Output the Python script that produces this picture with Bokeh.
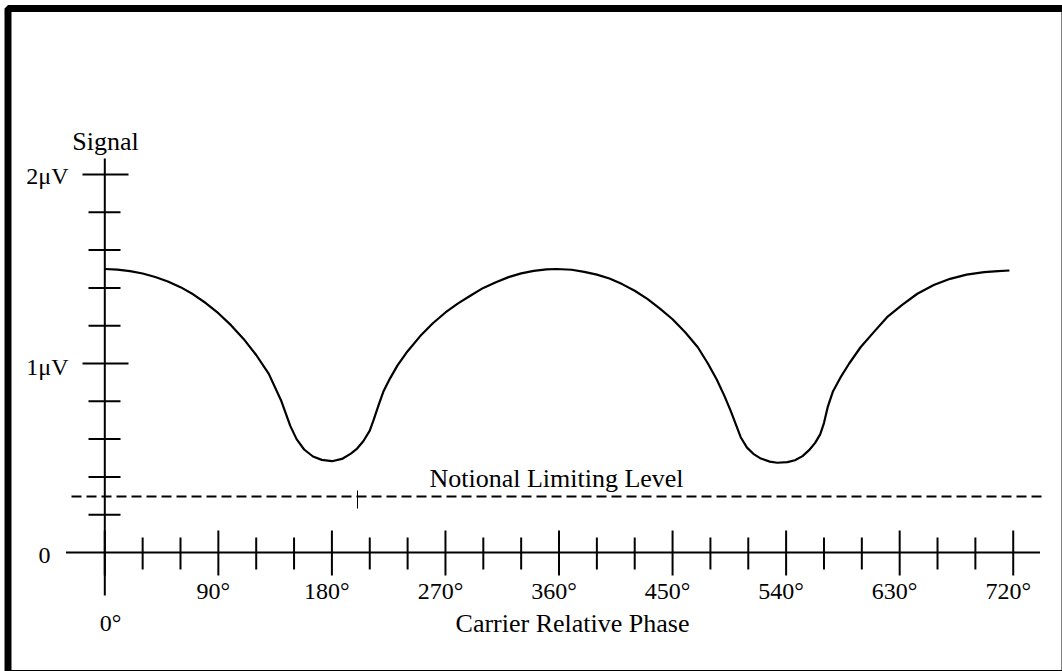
from bokeh.plotting import figure
from bokeh.models import Range1d
from bokeh.core.properties import value
from bokeh.embed import file_html
from bokeh.resources import INLINE
import math

# ---- data ----
phase_deg = [0, 10, 20, 30, 40, 50, 60, 70, 80, 90, 100, 110, 120, 130, 140, 147, 152, 158,
             165, 172, 180, 188, 195, 200, 205, 210, 213, 217, 221, 226, 232, 240, 250, 260,
             270, 280, 290, 300, 310, 320, 330, 340, 350, 358, 370, 380, 390, 400, 410, 420,
             430, 440, 450, 460, 470, 478, 485, 491, 496, 500, 504, 509, 514, 520, 527, 533,
             541, 547, 553, 558, 563, 567, 570, 573, 577, 583, 590, 599, 610, 620, 632, 644,
             657, 670, 683, 697, 708, 717]
signal_uv = [1.500, 1.497, 1.489, 1.476, 1.458, 1.434, 1.404, 1.366, 1.320, 1.266, 1.203,
             1.130, 1.045, 0.945, 0.800, 0.670, 0.600, 0.545, 0.508, 0.490, 0.483, 0.495,
             0.523, 0.550, 0.590, 0.645, 0.700, 0.780, 0.855, 0.920, 0.990, 1.065, 1.145,
             1.213, 1.270, 1.318, 1.360, 1.400, 1.430, 1.457, 1.477, 1.490, 1.498, 1.500,
             1.496, 1.485, 1.470, 1.450, 1.420, 1.385, 1.342, 1.290, 1.234, 1.165, 1.086,
             1.000, 0.915, 0.830, 0.751, 0.680, 0.610, 0.555, 0.522, 0.497, 0.481, 0.475,
             0.478, 0.488, 0.510, 0.540, 0.580, 0.625, 0.685, 0.770, 0.850, 0.925, 1.000,
             1.086, 1.170, 1.245, 1.310, 1.369, 1.415, 1.448, 1.470, 1.483, 1.489, 1.492]
limit_level = 0.296

x_major = [0, 90, 180, 270, 360, 450, 540, 630, 720]
x_minor = [30, 60, 120, 150, 210, 240, 300, 330, 390, 420, 480, 510, 570, 600, 660, 690]
x_labels = ["90°", "180°", "270°", "360°", "450°", "540°", "630°", "720°"]
x_label_pos = [90, 180, 270, 360, 450, 540, 630, 720]
y_major = [1, 2]
y_minor = [0.2, 0.4, 0.6, 0.8, 1.2, 1.4, 1.6, 1.8]
y_labels = ["2μV", "1μV"]
y_label_pos = [2, 1]

# ---- pixel <-> data mapping of the canvas ----
W, H = 1062, 671
X0PX, PX_PER_DEG = 104.3, 1.2617
Y0PX, PX_PER_UV = 552.0, 189.0

def dx(px):
    return (px - X0PX) / PX_PER_DEG

def dy(py):
    return (Y0PX - py) / PX_PER_UV

p = figure(width=W, height=H, output_backend="svg", toolbar_location=None,
           x_axis_type=None, y_axis_type=None, min_border=0,
           x_range=Range1d(dx(0), dx(W)), y_range=Range1d(dy(H), dy(0)))
p.outline_line_color = None
p.xgrid.visible = False
p.ygrid.visible = False
p.background_fill_color = "white"
p.border_fill_color = "white"

FONT = value("Liberation Serif")

# frame border
p.quad(left=[dx(7.5)], right=[dx(1064.5)], top=[dy(8)], bottom=[dy(673)],
       fill_color=None, line_color="black", line_width=7)

# axis lines
p.line([0, 0], [dy(595), dy(158)], line_color="black", line_width=2)
p.line([dx(65.5), dx(1039.5)], [0, 0], line_color="black", line_width=2)

# y ticks
p.scatter([dx(105)] * len(y_major), y_major, marker="dash", size=46,
          line_color="black", line_width=2)
p.scatter([dx(104)] * len(y_minor), y_minor, marker="dash", size=32,
          line_color="black", line_width=2)

# x ticks
p.scatter(x_major, [dy(552.5)] * len(x_major), marker="dash", size=45, angle=math.pi / 2,
          line_color="black", line_width=2)
p.scatter(x_minor, [dy(553)] * len(x_minor), marker="dash", size=32, angle=math.pi / 2,
          line_color="black", line_width=2)

# limiting level
p.line([dx(71), dx(1045)], [limit_level, limit_level], line_color="black",
       line_width=2, line_dash="10 5")
p.scatter([dx(357)], [dy(499)], marker="dash", size=18, angle=math.pi / 2,
          line_color="black", line_width=1)

# signal curve
p.line(phase_deg, signal_uv, line_color="black", line_width=2.2, line_join="round")

# labels
p.text(x=[lx + dx(X0PX - 5) for lx in x_label_pos], y=[dy(590)] * len(x_label_pos),
       text=x_labels, text_font=FONT, text_font_size="24px",
       text_align="center", text_baseline="middle", text_color="black")
p.text(x=[dx(68)] * 2, y=[dy(175), dy(366)], text=y_labels, text_font=FONT,
       text_font_size="24px", text_align="right", text_baseline="middle",
       text_color="black")
p.text(x=[dx(44)], y=[dy(555)], text=["0"], text_font=FONT, text_font_size="24px",
       text_align="center", text_baseline="middle", text_color="black")
p.text(x=[dx(110)], y=[dy(622)], text=["0°"], text_font=FONT, text_font_size="24px",
       text_align="center", text_baseline="middle", text_color="black")
p.text(x=[dx(572)], y=[dy(623)], text=["Carrier Relative Phase"], text_font=FONT,
       text_font_size="26px", text_align="center", text_baseline="middle",
       text_color="black")
p.text(x=[dx(556)], y=[dy(478)], text=["Notional Limiting Level"], text_font=FONT,
       text_font_size="26px", text_align="center", text_baseline="middle",
       text_color="black")
p.text(x=[dx(105)], y=[dy(141)], text=["Signal"], text_font=FONT,
       text_font_size="26px", text_align="center", text_baseline="middle",
       text_color="black")

open("out.html", "w").write(file_html(p, INLINE))
